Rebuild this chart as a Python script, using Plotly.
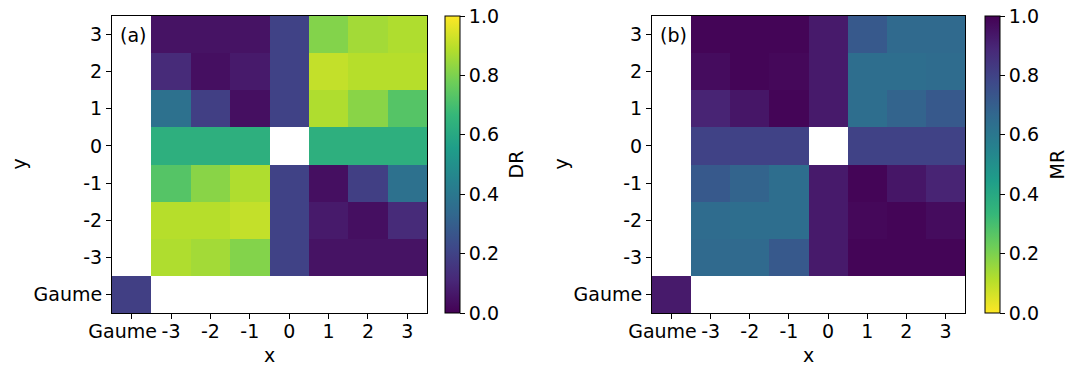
import plotly.graph_objects as go

# category labels, bottom row / left column first
labels = ["Gaume", "-3", "-2", "-1", "0", "1", "2", "3"]
# x tick labels sit a little left of their ticks in the original
xlabels = ["Gaume\u00a0\u00a0\u00a0", "-3", "-2", "-1", "0", "1", "2", "3"]

# DR values, rows from y=Gaume (bottom) to y=3 (top), columns x=Gaume..3
dr_gaume = [0.19, None, None, None, None, None, None, None]
dr_m3 = [None, 0.88, 0.86, 0.81, 0.20, 0.05, 0.05, 0.05]
dr_m2 = [None, 0.89, 0.89, 0.91, 0.20, 0.07, 0.04, 0.12]
dr_m1 = [None, 0.73, 0.82, 0.88, 0.20, 0.04, 0.19, 0.37]
dr_0 = [None, 0.63, 0.63, 0.63, None, 0.63, 0.63, 0.63]
dr_p1 = [None, 0.37, 0.19, 0.04, 0.20, 0.88, 0.82, 0.73]
dr_p2 = [None, 0.12, 0.04, 0.07, 0.20, 0.91, 0.89, 0.89]
dr_p3 = [None, 0.05, 0.05, 0.05, 0.20, 0.81, 0.86, 0.88]

# MR values, same layout
mr_gaume = [0.93, None, None, None, None, None, None, None]
mr_m3 = [None, 0.66, 0.66, 0.72, 0.93, 0.99, 0.99, 0.99]
mr_m2 = [None, 0.65, 0.64, 0.64, 0.93, 0.98, 0.99, 0.97]
mr_m1 = [None, 0.72, 0.68, 0.64, 0.93, 0.99, 0.94, 0.90]
mr_0 = [None, 0.80, 0.80, 0.80, None, 0.80, 0.80, 0.80]
mr_p1 = [None, 0.90, 0.94, 0.99, 0.93, 0.64, 0.68, 0.72]
mr_p2 = [None, 0.97, 0.99, 0.98, 0.93, 0.64, 0.64, 0.65]
mr_p3 = [None, 0.99, 0.99, 0.99, 0.93, 0.72, 0.66, 0.66]

# colorbar ticks
cb_ticks = [0, 0.2, 0.4, 0.6, 0.8, 1.0]
cb_ticktext = ["0.0", "0.2", "0.4", "0.6", "0.8", "1.0"]

dr = [dr_gaume, dr_m3, dr_m2, dr_m1, dr_0, dr_p1, dr_p2, dr_p3]
mr = [mr_gaume, mr_m3, mr_m2, mr_m1, mr_0, mr_p1, mr_p2, mr_p3]

# the page body has an 8px margin, so the figure is a bit smaller than the window
OFF = 8
W, H = 1074 - 2 * OFF, 371 - 2 * OFF
FONT = dict(family="DejaVu Sans", size=19, color="black")
idx = list(range(len(labels)))


def px(x):
    return (x - OFF) / W


def py(y):
    return 1 - (y - OFF) / H


# plot areas in window pixels
left_a, right_a = 112, 427
left_b, right_b = 652, 965
top, bottom = 16, 313
ydom = [py(bottom), py(top)]

fig = go.Figure()


def colorbar(x0):
    return dict(
        x=px(x0), xanchor="left", xref="paper",
        y=ydom[0], yanchor="bottom", len=ydom[1] - ydom[0], lenmode="fraction",
        thickness=15, thicknessmode="pixels",
        outlinewidth=1, outlinecolor="black",
        tickvals=cb_ticks, ticktext=cb_ticktext, ticklabeloverflow="allow",
        ticks="outside", ticklen=5, tickcolor="black", tickfont=FONT,
        xpad=0, ypad=0,
    )


fig.add_trace(go.Heatmap(z=dr, x=idx, y=idx, colorscale="Viridis", zmin=0, zmax=1,
                         colorbar=colorbar(445), xaxis="x", yaxis="y",
                         hoverongaps=False))
fig.add_trace(go.Heatmap(z=mr, x=idx, y=idx, colorscale="Viridis_r", zmin=0, zmax=1,
                         colorbar=colorbar(985), xaxis="x2", yaxis="y2",
                         hoverongaps=False))

axis_common = dict(
    tickvals=idx, range=[-0.5, 7.5], tickangle=0,
    showline=True, linecolor="black", linewidth=1, mirror=True,
    ticks="outside", ticklen=5, tickcolor="black", automargin=False,
    showgrid=False, zeroline=False, tickfont=FONT,
)
x_common = dict(ticktext=xlabels, ticklabelstandoff=-4, **axis_common)
y_common = dict(ticktext=labels, **axis_common)


def label(text, x, y, angle=0):
    return dict(text=text, x=px(x), y=py(y), xref="paper", yref="paper",
                xanchor="center", yanchor="middle", showarrow=False,
                textangle=angle, font=FONT)


fig.update_layout(
    width=W, height=H,
    margin=dict(l=0, r=0, t=0, b=0),
    paper_bgcolor="white", plot_bgcolor="white",
    font=FONT,
    xaxis=dict(domain=[px(left_a), px(right_a)], anchor="y", **x_common),
    yaxis=dict(domain=ydom, anchor="x", **y_common),
    xaxis2=dict(domain=[px(left_b), px(right_b)], anchor="y2", **x_common),
    yaxis2=dict(domain=ydom, anchor="x2", **y_common),
    annotations=[
        dict(text="(a)", x=0.02, y=0.98, xref="x domain", yref="y domain",
             xanchor="left", yanchor="top", showarrow=False, font=FONT),
        dict(text="(b)", x=0.02, y=0.98, xref="x2 domain", yref="y2 domain",
             xanchor="left", yanchor="top", showarrow=False, font=FONT),
        label("x", (left_a + right_a) / 2, 355),
        label("x", (left_b + right_b) / 2, 355),
        label("y", 18, (top + bottom) / 2, -90),
        label("y", 560, (top + bottom) / 2, -90),
        label("DR", 515, (top + bottom) / 2, -90),
        label("MR", 1056, (top + bottom) / 2, -90),
    ],
)

fig.write_html("out.html")
